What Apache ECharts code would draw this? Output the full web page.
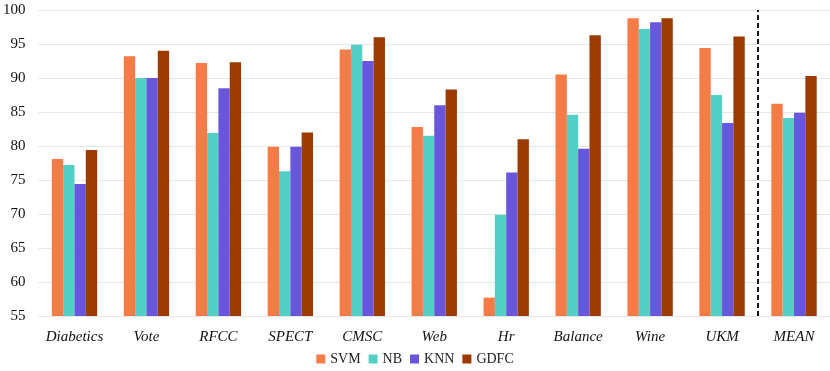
<!DOCTYPE html>
<html>
<head>
<meta charset="utf-8">
<script src="https://cdn.jsdelivr.net/npm/echarts@6/dist/echarts.min.js"></script>
<style>
  html, body { margin: 0; padding: 0; background: #fff; }
  #chart-container { width: 830px; height: 371px; }
</style>
</head>
<body>
<div id="chart-container"></div>
<script>
const categories = ['Diabetics', 'Vote', 'RFCC', 'SPECT', 'CMSC', 'Web', 'Hr', 'Balance', 'Wine', 'UKM', 'MEAN'];
const svm  = [78.1, 93.2, 92.2, 79.9, 94.2, 82.8, 57.7, 90.5, 98.8, 94.4, 86.2];
const nb   = [77.2, 90.0, 81.9, 76.3, 94.9, 81.5, 69.9, 84.6, 97.2, 87.5, 84.1];
const knn  = [74.4, 90.0, 88.5, 79.9, 92.5, 86.0, 76.1, 79.6, 98.2, 83.4, 84.9];
const gdfc = [79.4, 94.0, 92.3, 82.0, 96.0, 88.3, 81.0, 96.3, 98.8, 96.1, 90.3];
const seriesNames = ['SVM', 'NB', 'KNN', 'GDFC'];
const colors = ['#F57B47', '#53CFC6', '#6856DD', '#9C3A00'];

const initChart = () => {
  const dom = document.getElementById('chart-container');
  return echarts.init(dom, null, { renderer: 'canvas' });
};

const barSeries = (name, data, color) => ({
  name: name,
  type: 'bar',
  data: data,
  barGap: '0%',
  barCategoryGap: '37%',
  itemStyle: { color: color },
});

const chart = initChart();
const font = '"Liberation Serif", "Times New Roman", serif';

chart.setOption({
  animation: false,
  color: colors,
  textStyle: { fontFamily: font },
  grid: { left: 38, right: 0, top: 10, bottom: 55 },
  legend: {
    data: seriesNames,
    bottom: 0,
    left: 'center',
    itemWidth: 9,
    itemHeight: 9,
    itemGap: 8,
    icon: 'rect',
    textStyle: { fontFamily: font, fontSize: 14, color: '#222' },
  },
  xAxis: [
    {
      type: 'category',
      data: categories,
      axisLine: { show: false },
      axisTick: { show: false },
      axisLabel: {
        interval: 0,
        fontFamily: font,
        fontStyle: 'italic',
        fontSize: 15,
        color: '#111',
        margin: 14,
      },
    },
    {
      type: 'value',
      min: 0,
      max: 11,
      show: false,
    },
  ],
  yAxis: {
    type: 'value',
    min: 55,
    max: 100,
    interval: 5,
    axisLine: { show: false },
    axisTick: { show: false },
    axisLabel: { fontFamily: font, fontSize: 15, color: '#111', margin: 13 },
    splitLine: { lineStyle: { color: '#E3E7E6', width: 1 } },
  },
  series: [
    barSeries('SVM', svm, colors[0]),
    barSeries('NB', nb, colors[1]),
    barSeries('KNN', knn, colors[2]),
    barSeries('GDFC', gdfc, colors[3]),
    {
      name: 'divider',
      type: 'line',
      xAxisIndex: 1,
      data: [],
      markLine: {
        silent: true,
        symbol: 'none',
        label: { show: false },
        lineStyle: { color: '#111', type: [5, 3], width: 2 },
        data: [{ xAxis: 10 }],
      },
    },
  ],
});
</script>
</body>
</html>
